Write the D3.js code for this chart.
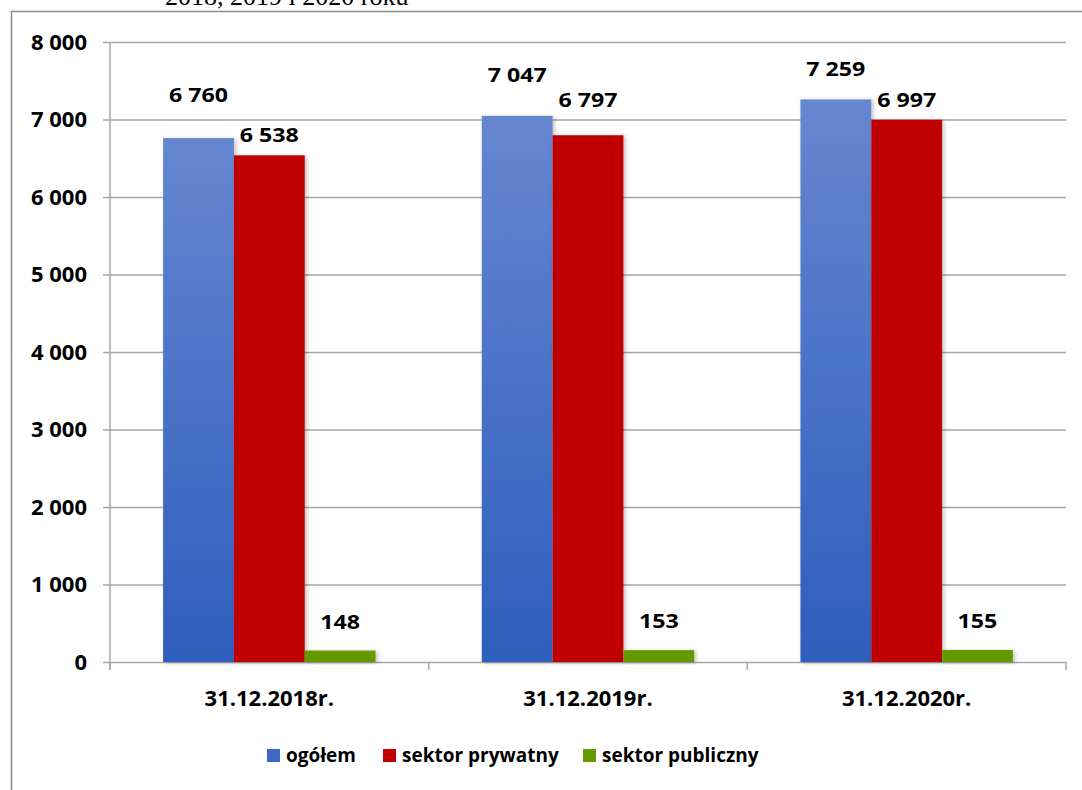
<!DOCTYPE html>
<html>
<head>
<meta charset="utf-8">
<script src="https://cdn.jsdelivr.net/npm/d3@7"></script>
<style>
  body { margin: 0; background: #fff; }
  svg { display: block; }
  .tick text { font-family: "Open Sans", Lato, sans-serif; font-weight: bold; font-size: 22px; fill: #000; }
</style>
</head>
<body>
<script>
var categories = ["31.12.2018r.", "31.12.2019r.", "31.12.2020r."];
var seriesNames = ["ogółem", "sektor prywatny", "sektor publiczny"];
var ogolem = [6760, 7047, 7259];
var prywatny = [6538, 6797, 6997];
var publiczny = [148, 153, 155];
var yTicks = [0, 1000, 2000, 3000, 4000, 5000, 6000, 7000, 8000];

var width = 1082;
var height = 790;
var plotLeft = 110, plotRight = 1066, plotTop = 42, plotBottom = 662;
var colors = ["url(#blueGrad)", "#c00000", "#669900"];
var legendColors = ["#3a68c4", "#c00000", "#669900"];
// how far each label sits above its bar (manual placement in the original)
var labelLift = [[43, 20, 29], [41, 35, 29], [31, 20, 29]];
var SX = 1.16; // value labels are a bit stretched sideways in the original

var values = [ogolem, prywatny, publiczny];
var rows = categories.map(function(c, i) {
    return { cat: c, i: i, vals: values.map(function(v, s) { return { s: s, v: v[i] }; }) };
});

var stretch = function(sel) {
    sel.each(function() {
        var t = d3.select(this);
        var x = +t.attr("x") || 0;
        t.attr("x", x / SX).attr("transform", "scale(" + SX + ",1)");
    });
};

var svg = d3.select("body").append("svg")
            .attr("width", width)
            .attr("height", height);

var defs = svg.append("defs");
var grad = defs.append("linearGradient").attr("id", "blueGrad")
               .attr("x1", 0).attr("y1", 0).attr("x2", 0).attr("y2", 1);
grad.append("stop").attr("offset", "0%").attr("stop-color", "#6686d0");
grad.append("stop").attr("offset", "100%").attr("stop-color", "#2e5ebd");
var shadow = defs.append("filter").attr("id", "shadow")
                 .attr("x", "-10%").attr("y", "-10%").attr("width", "130%").attr("height", "130%");
shadow.append("feDropShadow").attr("dx", 2).attr("dy", 1).attr("stdDeviation", 2)
      .attr("flood-color", "#000").attr("flood-opacity", 0.25);

// frame
svg.append("path")
   .attr("d", "M11.5," + height + "V11.5H" + width)
   .attr("fill", "none").attr("stroke", "#8c8c8c").attr("stroke-width", 1.5);

// title (cut off at top)
svg.append("text")
   .attr("x", 165).attr("y", 5)
   .style("font-family", "'Liberation Serif', 'Times New Roman', serif")
   .style("font-size", "26px")
   .text("2018, 2019 i 2020 roku");

var yScale = d3.scaleLinear().domain([0, 8000]).range([plotBottom, plotTop]);
var xScale = d3.scaleBand().domain(categories).range([plotLeft, plotRight])
               .paddingInner(1 / 3).paddingOuter(1 / 6);
var sScale = d3.scaleBand().domain(d3.range(3)).range([0, xScale.bandwidth()]);
var step = xScale.step();

var fmt = d3.formatLocale({ decimal: ",", thousands: "\u00a0", grouping: [3], currency: ["", ""] }).format(",d");

// y axis with gridlines
var yAxis = d3.axisLeft(yScale).tickValues(yTicks).tickFormat(fmt)
              .tickSize(-(plotRight - plotLeft)).tickSizeOuter(0).tickPadding(23);
var gy = svg.append("g").attr("transform", "translate(" + plotLeft + ",0)").call(yAxis);
gy.select(".domain").remove();
gy.selectAll(".tick line").attr("stroke", "#a6a6a6").attr("stroke-width", 1.5)
  .attr("x1", -7);
svg.append("line").attr("x1", plotLeft).attr("x2", plotLeft).attr("y1", plotTop).attr("y2", plotBottom + 8)
   .attr("stroke", "#a6a6a6").attr("stroke-width", 1.5);

// category boundary ticks
svg.selectAll(".ctick").data(d3.range(categories.length + 1)).enter().append("line")
   .attr("class", "ctick")
   .attr("x1", function(d) { return plotLeft + d * step; })
   .attr("x2", function(d) { return plotLeft + d * step; })
   .attr("y1", plotBottom).attr("y2", plotBottom + 8)
   .attr("stroke", "#a6a6a6").attr("stroke-width", 1.5);

// bars
var groups = svg.selectAll(".grp").data(rows).enter().append("g")
                .attr("class", "grp")
                .attr("transform", function(d) { return "translate(" + xScale(d.cat) + ",0)"; });

groups.selectAll("rect").data(function(d) { return d.vals; }).enter().append("rect")
      .attr("x", function(d) { return sScale(d.s); })
      .attr("y", function(d) { return yScale(d.v); })
      .attr("width", sScale.bandwidth())
      .attr("height", function(d) { return yScale(0) - yScale(d.v); })
      .attr("fill", function(d) { return colors[d.s]; })
      .attr("filter", "url(#shadow)");

// value labels
groups.each(function(row) {
    d3.select(this).selectAll(".lbl").data(row.vals).enter().append("text")
      .attr("class", "lbl")
      .attr("x", function(d) { return sScale(d.s) + sScale.bandwidth() / 2; })
      .attr("y", function(d) { return yScale(d.v) - labelLift[row.i][d.s]; })
      .attr("dy", "0.36em")
      .attr("text-anchor", "middle")
      .style("font-family", "'Open Sans', Lato, sans-serif")
      .style("font-weight", "bold")
      .style("font-size", "20px")
      .text(function(d) { return fmt(d.v); })
      .call(stretch);
});

// category labels
svg.selectAll(".cat").data(categories).enter().append("text")
   .attr("class", "cat")
   .attr("x", function(d) { return xScale(d) + xScale.bandwidth() / 2; })
   .attr("y", 698).attr("dy", "0.36em")
   .attr("text-anchor", "middle")
   .style("font-family", "'Open Sans', Lato, sans-serif")
   .style("font-weight", "bold")
   .style("font-size", "22px")
   .text(function(d) { return d; });

// legend
var legendX = [267, 383, 583];
var lg = svg.selectAll(".leg").data(seriesNames).enter().append("g")
            .attr("class", "leg")
            .attr("transform", function(d, i) { return "translate(" + legendX[i] + ",749)"; });
lg.append("rect").attr("width", 13).attr("height", 13)
  .attr("fill", function(d, i) { return legendColors[i]; });
lg.append("text").attr("x", 19).attr("y", 6).attr("dy", "0.36em")
  .style("font-family", "'Open Sans', Lato, sans-serif")
  .style("font-weight", "bold")
  .style("font-size", "19px")
  .text(function(d) { return d; });
</script>
</body>
</html>
